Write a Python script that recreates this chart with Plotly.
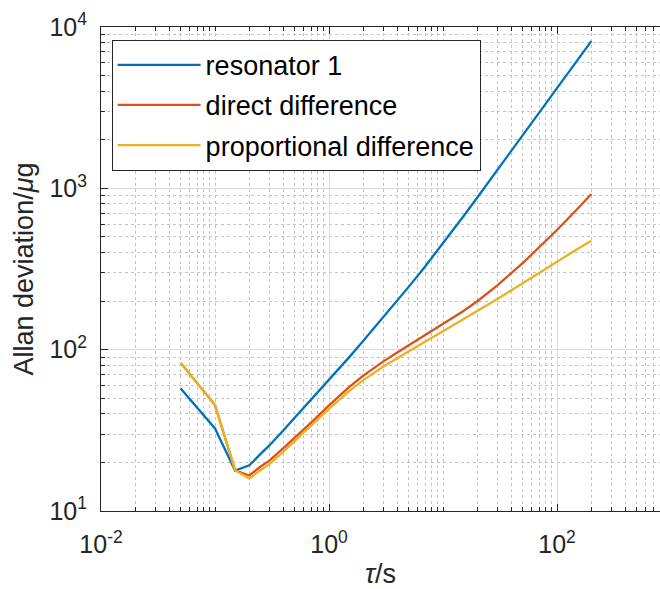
import plotly.graph_objects as go

# averaging time tau (s)
tau = [0.05, 0.1, 0.15, 0.2, 0.25, 0.3, 0.4, 0.5, 0.7, 1, 1.5, 2, 3, 4, 5, 7,
       10, 15, 20, 30, 50, 70, 100, 150, 200]

# Allan deviation (ug)
resonator1 = [57.5, 32.5, 17.8, 19.2, 22.5, 25.5, 31.8, 37.9, 49.4, 64.5, 89.6, 113.4,
              158.8, 202, 245, 329, 455, 667, 878, 1298, 2130, 2952, 4172, 6183, 8175]
direct_diff = [82.8, 45.3, 17.9, 16.6, 18.8, 20.5, 24.6, 28.4, 35.4, 45.1, 58.5, 69.1,
               84.6, 96.3, 106.2, 123.2, 144.1, 172.9, 199.7, 250.6, 344, 430, 552, 742, 923]
prop_diff = [82.8, 45.3, 17.9, 15.85, 17.9, 19.5, 23.4, 27.1, 33.8, 43, 55.3, 64.7,
             78.6, 89, 97.7, 112.2, 129.9, 153.5, 173.1, 206, 258, 300, 351, 419.5, 473]

series_names = ["resonator 1", "direct difference", "proportional difference"]
series_colors = ["#0072BD", "#D95319", "#EDB120"]

x_tickvals = [0.01, 1, 100]
x_ticktext = ["10<sup>-2</sup>", "10<sup>0</sup>", "10<sup>2</sup>"]
y_tickvals = [10, 100, 1000, 10000]
y_ticktext = ["10<sup>1</sup>", "10<sup>2</sup>", "10<sup>3</sup>", "10<sup>4</sup>"]

FONT = "Liberation Sans, Arial, sans-serif"
AX = "#262626"

fig = go.Figure()
for name, vals, col in zip(series_names, [resonator1, direct_diff, prop_diff], series_colors):
    fig.add_trace(go.Scatter(x=tau, y=vals, mode="lines", name=name, legendgroup=name,
                             line=dict(color=col, width=2.3)))

axis_common = dict(
    type="log",
    tickmode="array",
    ticks="inside",
    ticklen=7,
    tickwidth=1,
    tickcolor=AX,
    showline=True,
    linecolor=AX,
    linewidth=1,
    showgrid=True,
    gridcolor="#dcdcdc",
    gridwidth=1,
    tickfont=dict(family=FONT, size=25, color=AX),
    automargin=False,
    minor=dict(dtick="D1", ticks="inside", ticklen=4, tickcolor=AX, tickwidth=1,
               showgrid=True, gridcolor="#c4c4c4", griddash="dot", gridwidth=1),
)

fig.update_xaxes(**axis_common, range=[-2, 2.9035], tickvals=x_tickvals, ticktext=x_ticktext,
                 mirror="ticks", ticklabelstandoff=11,
                 title=dict(text="<i>τ</i>/s", font=dict(family=FONT, size=27, color=AX), standoff=10))
fig.update_yaxes(**axis_common, range=[1, 4], tickvals=y_tickvals, ticktext=y_ticktext,
                 ticklabelstandoff=8,
                 title=dict(text="Allan deviation/<i>μ</i>g", font=dict(family=FONT, size=27, color=AX), standoff=8))

fig.update_layout(
    width=660, height=589,
    margin=dict(l=101, r=0, t=27, b=78, pad=0),
    paper_bgcolor="white", plot_bgcolor="white",
    showlegend=True,
    legend=dict(x=0.019, y=0.9736, xanchor="left", yanchor="top",
                bgcolor="white", bordercolor=AX, borderwidth=1,
                font=dict(family=FONT, size=27, color="black"),
                itemwidth=83, tracegroupgap=2),
)

fig.write_html("out.html")
